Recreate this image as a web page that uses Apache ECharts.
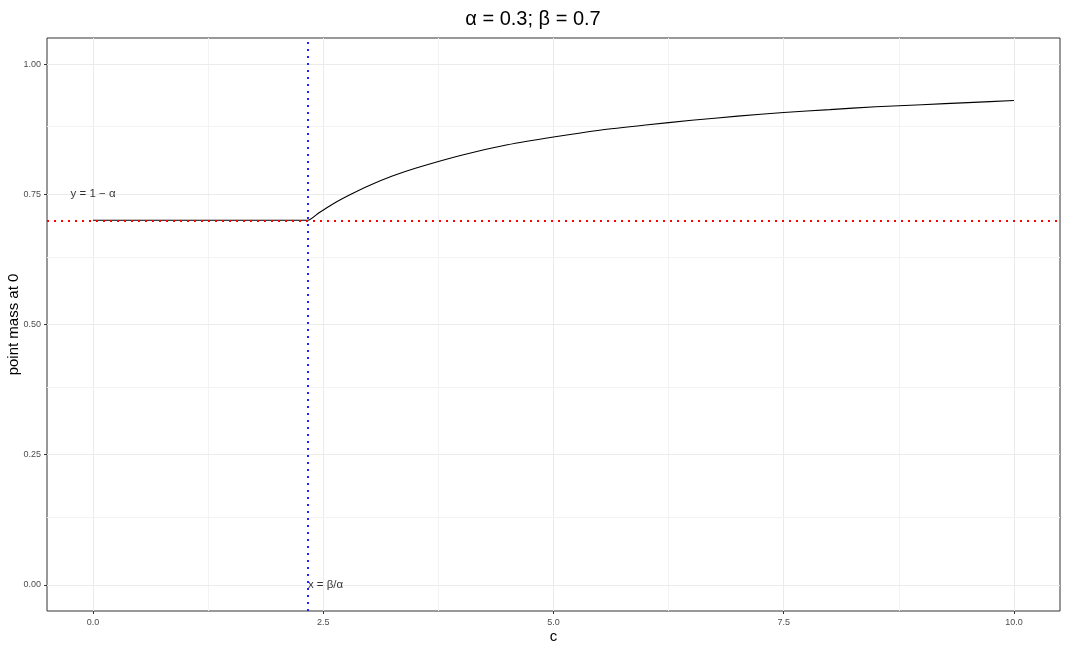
<!DOCTYPE html>
<html>
<head>
<meta charset="utf-8">
<script src="https://cdn.jsdelivr.net/npm/echarts@6/dist/echarts.min.js"></script>
<style>
  html, body { margin: 0; padding: 0; background: #fff; }
  #chart { width: 1066px; height: 651px; }
</style>
</head>
<body>
<div id="chart"></div>
<script>
// values
var cValues = [0, 2.333, 2.45, 2.6, 2.8, 3, 3.25, 3.5, 4, 4.5, 5, 5.5, 6, 6.5, 7, 7.5, 8, 8.5, 9, 9.5, 10];
var massValues = [0.7, 0.7, 0.714, 0.731, 0.75, 0.767, 0.785, 0.8, 0.825, 0.845, 0.86, 0.873, 0.883, 0.892, 0.9, 0.907, 0.9125, 0.918, 0.922, 0.926, 0.93];
var xTicks = [0, 2.5, 5, 7.5, 10];
var xMinor = [1.25, 3.75, 6.25, 8.75];
var yTicks = [0, 0.25, 0.5, 0.75, 1];
var yMinor = [0.125, 0.375, 0.625, 0.875];
var refY = 0.7;      // y = 1 - alpha
var refX = 2.333;    // x = beta / alpha
var title = "α = 0.3; β = 0.7";

var chart = echarts.init(document.getElementById("chart"));

var gridLines = [];
xTicks.forEach(function (v) { gridLines.push({ xAxis: v, lineStyle: { color: "#ebebeb", width: 1, type: "solid" } }); });
xMinor.forEach(function (v) { gridLines.push({ xAxis: v, lineStyle: { color: "#f3f3f3", width: 1, type: "solid" } }); });
yTicks.forEach(function (v) { gridLines.push({ yAxis: v, lineStyle: { color: "#ebebeb", width: 1, type: "solid" } }); });
yMinor.forEach(function (v) { gridLines.push({ yAxis: v, lineStyle: { color: "#f3f3f3", width: 1, type: "solid" } }); });

var option = {
  animation: false,
  title: {
    text: title,
    left: "center",
    top: 4,
    textStyle: { fontFamily: "Liberation Sans", fontSize: 20, fontWeight: "normal", color: "#000" }
  },
  grid: {
    left: 47, right: 6, top: 38, bottom: 40,
    containLabel: false,
    outerBoundsMode: "none",
    show: true, borderColor: "#333", borderWidth: 1, backgroundColor: "#fff"
  },
  xAxis: {
    type: "value",
    min: -0.5, max: 10.5,
    name: "c",
    nameLocation: "middle",
    nameGap: 18,
    nameMoveOverlap: false,
    nameTextStyle: { fontFamily: "Liberation Sans", fontSize: 15, color: "#000" },
    axisLine: { show: false, onZero: false },
    axisTick: { show: true, customValues: xTicks, length: 3, lineStyle: { color: "#333" } },
    axisLabel: {
      customValues: xTicks, margin: 7,
      fontFamily: "Liberation Sans", fontSize: 9, color: "#4d4d4d",
      formatter: function (v) { return v.toFixed(1); }
    },
    splitLine: { show: false }
  },
  yAxis: {
    type: "value",
    min: -0.05, max: 1.05,
    name: "point mass at 0",
    nameLocation: "middle",
    nameGap: 26,
    nameMoveOverlap: false,
    nameTextStyle: { fontFamily: "Liberation Sans", fontSize: 15, color: "#000" },
    axisLine: { show: false, onZero: false },
    axisTick: { show: true, customValues: yTicks, length: 3, lineStyle: { color: "#333" } },
    axisLabel: {
      customValues: yTicks, margin: 6,
      fontFamily: "Liberation Sans", fontSize: 9, color: "#4d4d4d",
      formatter: function (v) { return v.toFixed(2); }
    },
    splitLine: { show: false }
  },
  series: [
    {
      type: "line",
      data: [],
      silent: true,
      markLine: { silent: true, symbol: "none", label: { show: false }, data: gridLines, z: 0 },
      z: 0
    },
    {
      name: "point mass",
      type: "line",
      data: cValues.map(function (c, i) { return [c, massValues[i]]; }),
      showSymbol: false,
      smooth: 0.2,
      lineStyle: { color: "#000", width: 1.1 },
      z: 2,
      markLine: {
        silent: true,
        symbol: "none",
        label: { show: false },
        data: [
          { yAxis: refY, lineStyle: { color: "#ff0000", type: [2, 5], width: 2 } },
          { xAxis: refX, lineStyle: { color: "#2222ff", type: [2, 5], width: 2 } }
        ]
      }
    },
    {
      type: "scatter",
      symbolSize: 0,
      silent: true,
      z: 3,
      data: [
        { value: [0, 0.75], label: { formatter: "y = 1 − α", position: "inside", align: "center" } },
        { value: [refX, 0], label: { formatter: "x = β/α", position: "inside", align: "left" } }
      ],
      label: {
        show: true,
        fontFamily: "Liberation Sans",
        fontSize: 11.5,
        color: "#000"
      }
    }
  ]
};

chart.setOption(option);
</script>
</body>
</html>
